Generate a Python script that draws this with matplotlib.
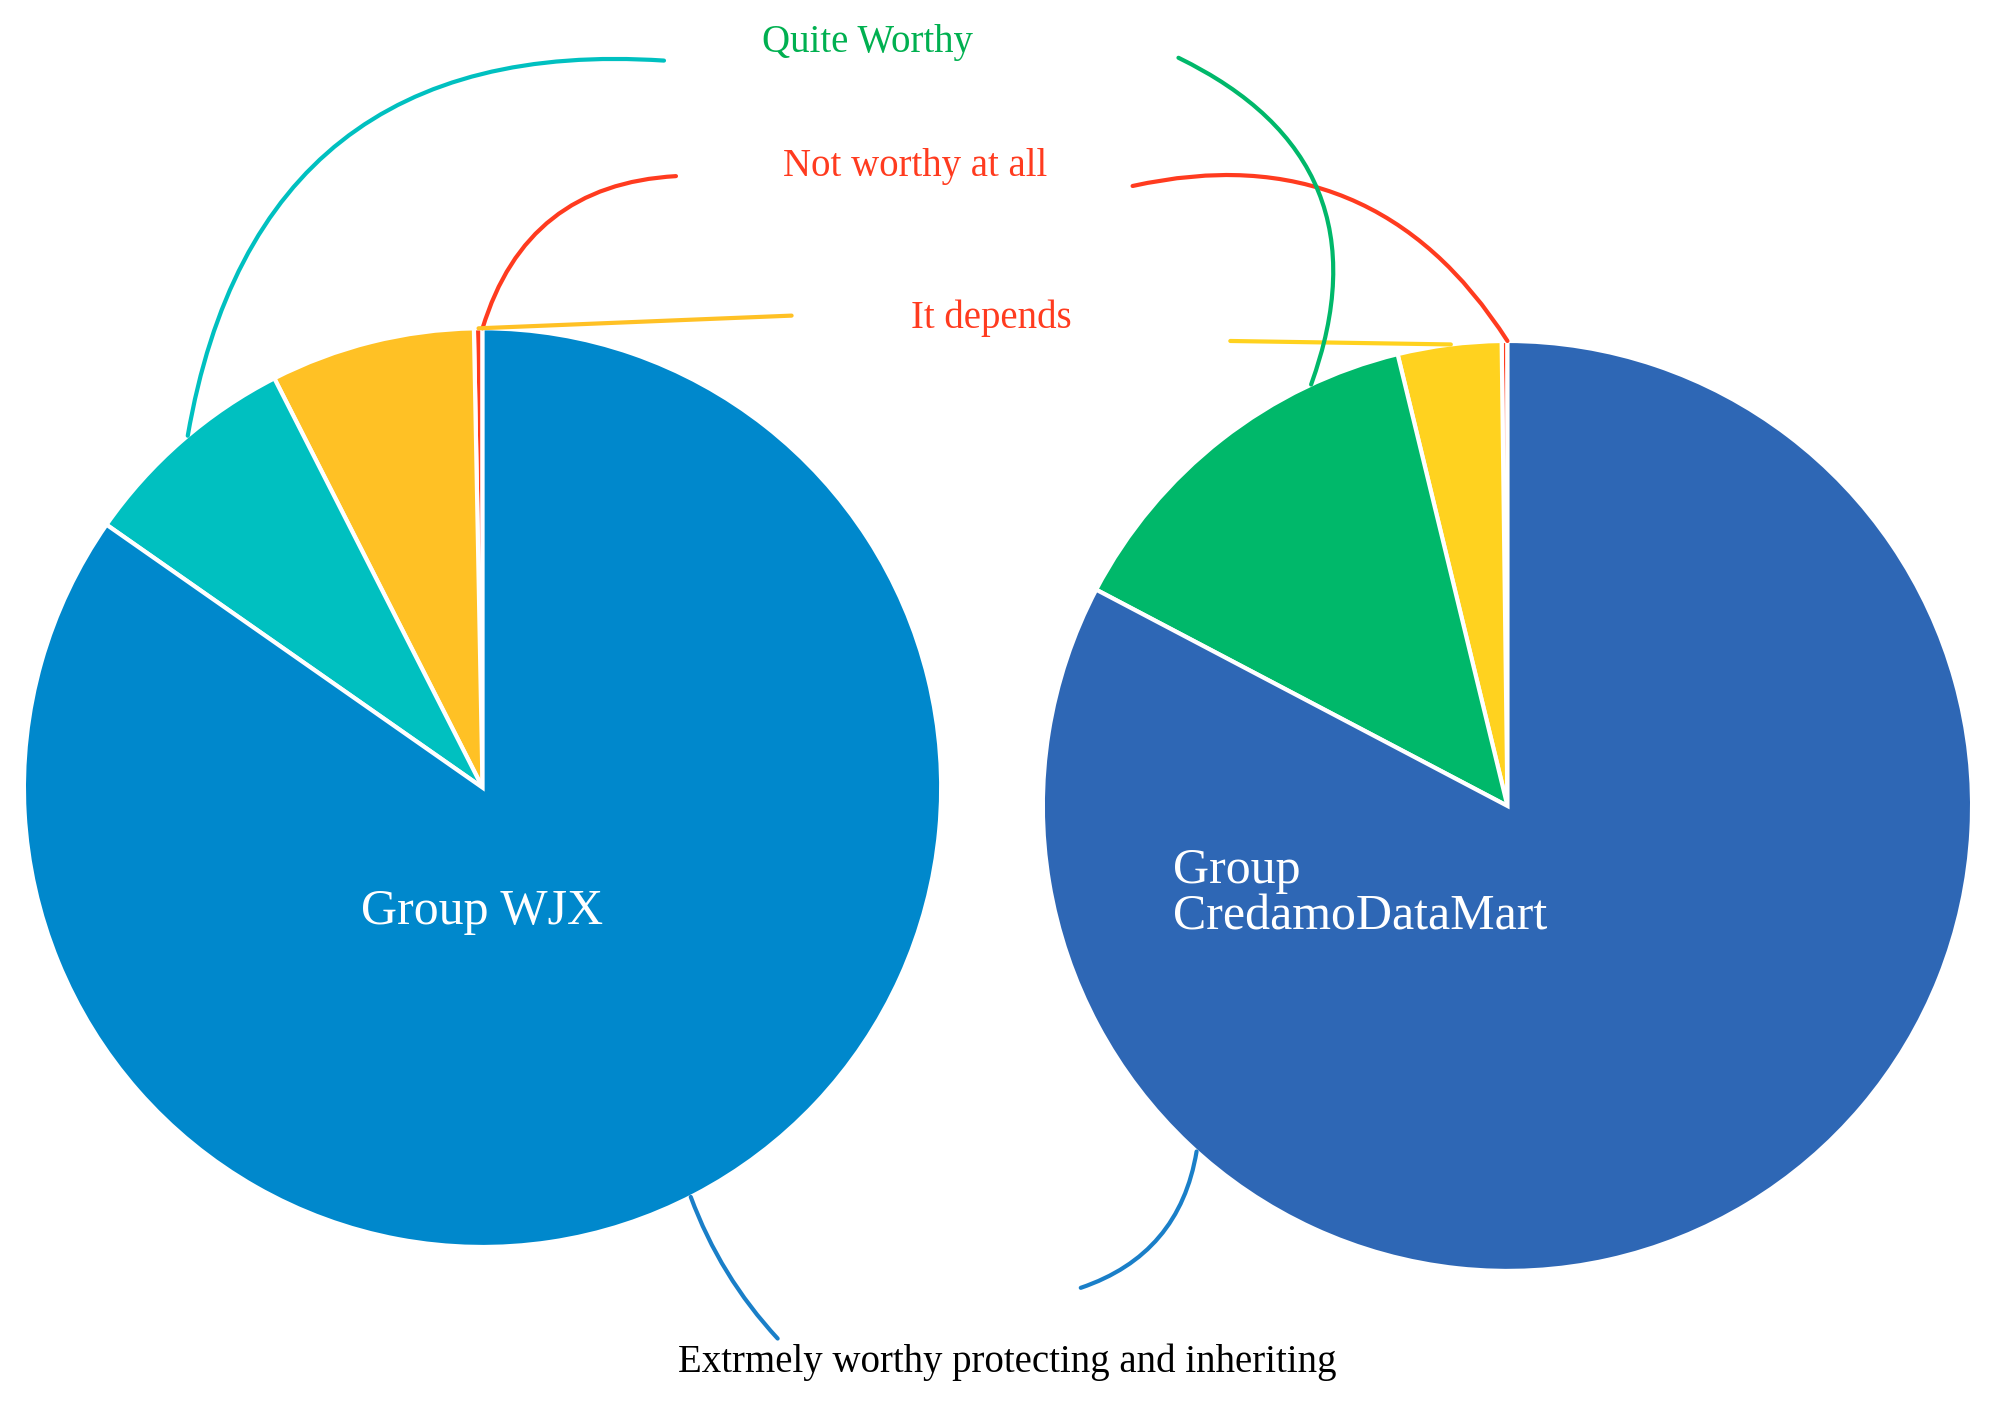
import numpy as np
import matplotlib
matplotlib.use("Agg")
from matplotlib import pyplot as plt

# answer categories, in the order the wedges run (counter-clockwise from 12 o'clock)
categorias = ["Not worthy at all", "It depends", "Quite Worthy",
              "Extrmely worthy protecting and inheriting"]
wjx = [0.3, 7.2, 7.8, 84.7]
credamo = [0.2, 3.6, 13.5, 82.7]

cores_wjx = ["#FF3B1F", "#FFC125", "#00C0C0", "#0088CC"]
cores_credamo = ["#FF3B1F", "#FFD21F", "#00B86A", "#2E67B5"]
cores_texto = ["#FF3B1F", "#FF3B1F", "#00B050", "#000000"]

fig = plt.figure(figsize=(19.94, 14.09), dpi=100)
ax1 = fig.add_axes([0.012, 0.115, 0.46, 0.652])
ax2 = fig.add_axes([0.523, 0.098, 0.466, 0.660])

props = dict(edgecolor="white", linewidth=3)
for ax, vals, cores in [(ax1, wjx, cores_wjx), (ax2, credamo, cores_credamo)]:
    ax.pie(vals, colors=cores, startangle=90, counterclock=True,
           wedgeprops=props, radius=1)
    ax.set_xlim(-1, 1)
    ax.set_ylim(-1, 1)
    ax.set_aspect("auto")
    ax.axis("off")

fonte = dict(family=["Liberation Serif", "DejaVu Serif"])
ax1.text(0, -0.27, "Group WJX", color="white", fontsize=36,
         ha="center", va="center", **fonte)
ax2.text(-0.72, -0.19, "Group\nCredamoDataMart", color="white", fontsize=36,
         ha="left", va="center", linespacing=1.0, **fonte)

# label positions (figure fraction)
pos_texto = [(0.459, 0.882), (0.497, 0.774), (0.435, 0.970), (0.505, 0.033)]
for i, cat in enumerate(categorias):
    fig.text(pos_texto[i][0], pos_texto[i][1], cat, color=cores_texto[i],
             fontsize=28, ha="center", va="center", **fonte)


def ponto(ax, ang):
    a = np.deg2rad(ang)
    return (np.cos(a), np.sin(a))


def liga(ax, ang, xy_texto, cor, rad):
    ax.annotate("", xy=ponto(ax, ang), xycoords="data",
                xytext=xy_texto, textcoords="figure fraction",
                arrowprops=dict(arrowstyle="-", color=cor, lw=3,
                                connectionstyle=f"arc3,rad={rad}",
                                shrinkA=0, shrinkB=0),
                annotation_clip=False)


# connectors: (axis, anchor angle, text side point, colour, curvature)
liga(ax1, 90, (0.339, 0.875), "#FF3B1F", 0.35)
liga(ax2, 90, (0.568, 0.868), "#FF3B1F", -0.35)
liga(ax1, 90.5, (0.397, 0.776), "#FFC125", 0.0)
liga(ax2, 97, (0.617, 0.758), "#FFD21F", 0.0)
liga(ax1, 130, (0.333, 0.957), "#00C0C0", 0.45)
liga(ax2, 115, (0.591, 0.959), "#00B86A", -0.45)
liga(ax1, -63, (0.390, 0.050), "#1A7FC8", -0.1)
liga(ax2, 228, (0.542, 0.086), "#1A7FC8", 0.3)

fig.savefig("out.png", dpi=100, facecolor="white")
